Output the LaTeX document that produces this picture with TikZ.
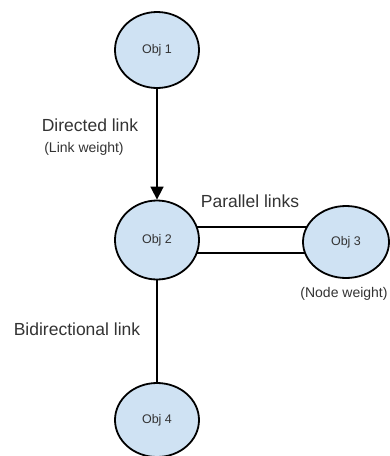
\documentclass[tikz,border=0pt]{standalone}
\usepackage{fontspec}
\setmainfont{Liberation Sans}
\usetikzlibrary{shapes.geometric,arrows.meta,backgrounds}
\definecolor{objfill}{HTML}{CFE2F3}
\definecolor{labelgray}{HTML}{333333}
\begin{document}
\begin{tikzpicture}[x=1pt,y=-1pt,
  obj/.style={ellipse,draw=black,line width=1.8pt,fill=objfill,
    minimum width=84pt,minimum height=76pt,inner sep=0pt,
    text=labelgray,font=\fontsize{12.5}{14}\selectfont},
  link/.style={draw=black,line width=1.6pt},
  caption/.style={text=labelgray,font=\fontsize{17.5}{20}\selectfont,inner sep=0pt,anchor=base},
  note/.style={text=labelgray,font=\fontsize{14}{16}\selectfont,inner sep=0pt,anchor=base}]
\useasboundingbox (0,0) rectangle (389,456);

% objects
\node[obj] (o1) at (157,50) {Obj 1};
\node[obj,minimum height=79pt] (o2) at (157,240) {Obj 2};
\node[obj,minimum width=86pt,minimum height=72pt] (o3) at (346,242) {Obj 3};
\node[obj,minimum height=74pt] (o4) at (157,420) {Obj 4};

% links
\draw[link,-{Triangle[width=13pt,length=13pt]}] (o1) -- (o2);
\draw[link] (o2) -- (o4);
\begin{scope}[on background layer]
  \draw[link] ([yshift=13pt]o2.center) -- ([yshift=13pt]o2.center -| o3.center);
  \draw[link] ([yshift=-13pt]o2.center) -- ([yshift=-13pt]o2.center -| o3.center);
\end{scope}

% labels
\node[caption] (dl) at (90,131) {Directed link};
\node[note] (lw) at (84,152) {(Link weight)};
\node[caption] (pl) at (250,207) {Parallel links};
\node[caption] (bl) at (77,335) {Bidirectional link};
\node[note] (nw) at (344,297) {(Node weight)};
\end{tikzpicture}
\end{document}
